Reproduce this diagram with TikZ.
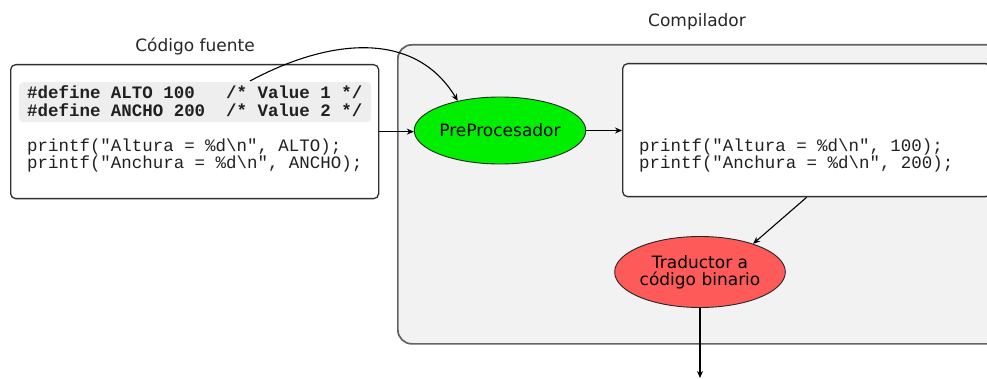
\documentclass[tikz,border=0pt]{standalone}
\usepackage{fontspec}
\setmainfont{DejaVu Sans}
\newfontfamily\codefont{Liberation Mono}
\usetikzlibrary{shapes.geometric,arrows.meta}

\definecolor{compfill}{HTML}{F2F2F2}
\definecolor{compline}{HTML}{626262}
\definecolor{hlfill}{HTML}{EEEEEE}
\definecolor{boxline}{HTML}{303030}
\definecolor{codeink}{HTML}{202020}
\definecolor{prefill}{HTML}{00EE00}
\definecolor{trafill}{HTML}{FF5A5A}

\newcommand\dq{\char34\relax}

\tikzset{
  arr/.style={draw=black, line width=1.1pt, -{Stealth[length=7pt,width=6pt]}},
  codebox/.style={draw=boxline, fill=white, line width=1.3pt, rounded corners=5pt, anchor=north west, inner sep=0pt},
  compbox/.style={draw=compline, fill=compfill, line width=1.7pt, rounded corners=14pt, anchor=north west, inner sep=0pt},
  stage/.style={ellipse, draw=black!85, line width=0.9pt, inner sep=0pt, align=center,
    font=\fontsize{17}{17}\selectfont},
  code/.style={anchor=base west, inner sep=0pt, text=codeink, font=\codefont\fontsize{17.45}{17.5}\selectfont},
  codebold/.style={code, font=\codefont\bfseries\fontsize{17.45}{17.5}\selectfont},
  title/.style={anchor=base, inner sep=0pt, text=black!85, font=\fontsize{17}{17}\selectfont}
}

\begin{document}
\begin{tikzpicture}[x=1pt, y=-1pt]
\useasboundingbox (0,0) rectangle (987,379);

% compiler frame and the expanded code inside it
\node[compbox, minimum width=640pt, minimum height=299pt] (comp) at (397,44) {};
\node[title] (complabel) at (697,27) {Compilador};
\node[codebox, minimum width=368pt, minimum height=133pt] (out) at (622,63) {};
\node[code] (out1) at (639,152) {printf(\dq Altura = \%d\textbackslash n\dq, 100);};
\node[code] (out2) at (639,169) {printf(\dq Anchura = \%d\textbackslash n\dq, 200);};

% source file with its two macro definitions
\node[title] (srclabel) at (195,52) {Código fuente};
\node[codebox, minimum width=368pt, minimum height=134pt] (src) at (10,64) {};
\node[fill=hlfill, rounded corners=4pt, anchor=north west, inner sep=0pt,
      minimum width=352pt, minimum height=40pt] (hl) at (19,82) {};
\node[codebold] (def1) at (27,99) {\#define ALTO 100\ \ \ /* Value 1 */};
\node[codebold] (def2) at (27,117) {\#define ANCHO 200\ \ /* Value 2 */};
\node[code] (src1) at (27,152) {printf(\dq Altura = \%d\textbackslash n\dq, ALTO);};
\node[code] (src2) at (27,169) {printf(\dq Anchura = \%d\textbackslash n\dq, ANCHO);};

% processing stages
\node[stage, fill=prefill, minimum width=166pt, minimum height=67pt] (pre) at (500,130.5) {PreProcesador};
\node[stage, fill=trafill, minimum width=166pt, minimum height=71pt] (tra) at (700,272) {Traductor a\\código binario};

% connectors
\coordinate (macros) at (250,81);
\coordinate (exit) at (700,378);
\draw[arr] (macros) .. controls (330,38) and (415,30) .. (pre.145);
\draw[arr] (src.east) -- (src.east -| pre.west);
\draw[arr] (pre.east) -- (pre.east -| out.west);
\draw[arr] (out.south) -- (tra.28);
\draw[arr] (tra.south) -- (exit);
\end{tikzpicture}
\end{document}
